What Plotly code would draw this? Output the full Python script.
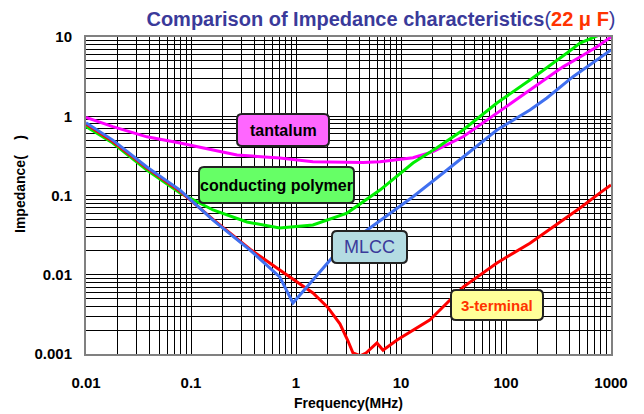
import plotly.graph_objects as go

# ---- data (frequency in MHz, impedance in ohm) ----
tan_f = [0.01, 0.018, 0.038, 0.0786, 0.162, 0.274, 0.70, 1.45, 4.35, 6.3, 13, 20.2, 39, 82, 169, 245, 349, 507, 736, 1000]
tan_z = [0.97, 0.74, 0.55, 0.46, 0.375, 0.324, 0.297, 0.267, 0.26, 0.267, 0.30, 0.357, 0.55, 1.1, 2.14, 3.04, 4.2, 5.6, 7.55, 10.0]

pol_f = [0.01, 0.018, 0.038, 0.0786, 0.162, 0.341, 0.70, 1.45, 3.06, 6.3, 13, 22, 39, 82, 169, 245, 381, 507, 760]
pol_z = [0.74, 0.46, 0.21, 0.108, 0.0657, 0.0463, 0.0389, 0.0425, 0.060, 0.117, 0.257, 0.40, 0.67, 1.47, 2.87, 4.06, 6.28, 8.4, 10.5]

mlcc_f = [0.01, 0.018, 0.038, 0.0786, 0.162, 0.365, 0.70, 0.935, 1.45, 2.25, 4.35, 7.85, 13, 27.4, 56.5, 82, 169, 245, 435, 736, 1000]
mlcc_z = [0.83, 0.50, 0.229, 0.117, 0.049, 0.0205, 0.0094, 0.0044, 0.0086, 0.0169, 0.0337, 0.060, 0.0966, 0.21, 0.46, 0.67, 1.2, 1.7, 3.16, 5.13, 6.85]

term_f = [0.01, 0.018, 0.038, 0.0786, 0.162, 0.365, 0.70, 1.0, 1.45, 2.0, 2.62, 3.1, 3.49, 4.1, 4.64, 5.9, 6.74, 9.17, 18.9, 39, 82, 169, 281, 507, 785, 1000]
term_z = [0.80, 0.48, 0.222, 0.113, 0.050, 0.021, 0.0115, 0.0083, 0.0059, 0.0039, 0.0024, 0.0015, 0.00103, 0.00095, 0.00103, 0.00138, 0.00112, 0.0015, 0.0027, 0.0070, 0.0141, 0.025, 0.040, 0.0695, 0.108, 0.136]

x_ticks = [0.01, 0.1, 1, 10, 100, 1000]
x_tick_text = ["0.01", "0.1", "1", "10", "100", "1000"]
y_ticks = [0.001, 0.01, 0.1, 1, 10]
y_tick_text = ["0.001", "0.01", "0.1", "1", "10"]

# ---- layout geometry (pixels) ----
W, H = 644, 414
L, R, T, B = 86, 611, 37, 354

fig = go.Figure()
for f, z, c in [(tan_f, tan_z, "#FF00FF"), (pol_f, pol_z, "#00EE00"),
                (term_f, term_z, "#FF0000"), (mlcc_f, mlcc_z, "#4070F0")]:
    fig.add_trace(go.Scatter(x=f, y=z, mode="lines", line=dict(color=c, width=3),
                             showlegend=False, hoverinfo="skip"))

def px2paper(px, py):
    return (px - L) / (R - L), (B - py) / (B - T)

def rounded(x0, y0, x1, y1, r=5):
    def p(x, y):
        a, b = px2paper(x, y)
        return f"{a:.5f},{b:.5f}"
    return (f"M {p(x0 + r, y0)} L {p(x1 - r, y0)} Q {p(x1, y0)} {p(x1, y0 + r)} "
            f"L {p(x1, y1 - r)} Q {p(x1, y1)} {p(x1 - r, y1)} "
            f"L {p(x0 + r, y1)} Q {p(x0, y1)} {p(x0, y1 - r)} "
            f"L {p(x0, y0 + r)} Q {p(x0, y0)} {p(x0 + r, y0)} Z")

labels = [
    ("<b>tantalum</b>", 237, 114, 329, 146, "#FF66FF", "#000000", 16),
    ("<b>conducting polymer</b>", 199, 167, 354, 203, "#66FF66", "#000000", 16),
    ("MLCC", 332, 231, 407, 263, "#B4DCE2", "#3A3A9A", 18),
    ("<b>3-terminal</b>", 451, 290, 543, 320, "#FFFF99", "#FF3300", 15),
]
shapes = []
annos = []
for text, x0, y0, x1, y1, fill, tc, fs in labels:
    shapes.append(dict(type="path", xref="paper", yref="paper", path=rounded(x0, y0, x1, y1),
                       fillcolor=fill, line=dict(color="#222222", width=2), layer="above"))
    cx, cy = px2paper((x0 + x1) / 2, (y0 + y1) / 2)
    annos.append(dict(x=cx, y=cy, xref="paper", yref="paper", showarrow=False,
                      xanchor="center", yanchor="middle", text=text,
                      font=dict(family="Liberation Sans, Arial", size=fs, color=tc)))

# y-axis title as rotated annotation
ytx, yty = px2paper(20, 184)
annos.append(dict(x=ytx, y=yty, xref="paper", yref="paper", showarrow=False,
                  xanchor="center", yanchor="middle", textangle=-90,
                  text="<b>Impedance(    )</b>",
                  font=dict(family="Liberation Sans, Arial", size=14, color="black")))

fig.update_layout(
    width=W, height=H,
    margin=dict(l=L, r=W - R, t=T, b=H - B, autoexpand=False),
    paper_bgcolor="white", plot_bgcolor="white",
    font=dict(family="Liberation Sans, Arial", color="black"),
    title=dict(
        text="<b>Comparison of Impedance characteristics</b><span style='color:#3A3A9A'>(</span>"
             "<b><span style='color:#FF3300'>22 μ F</span></b><span style='color:#3A3A9A'>)</span>",
        x=381 / W, xanchor="center", xref="container",
        y=1 - 19 / H, yanchor="middle",
        font=dict(family="Liberation Sans, Arial", size=20, color="#3A3A9A")),
    shapes=shapes,
    annotations=annos,
    xaxis=dict(type="log", range=[-2, 3], tickvals=x_ticks, automargin=False,
               ticktext=[f"<b>{t}</b>" for t in x_tick_text],
               tickfont=dict(size=15, family="Liberation Sans, Arial"), ticks="",
               ticklabelstandoff=14,
               showgrid=True, gridcolor="black", gridwidth=1,
               minor=dict(showgrid=True, gridcolor="black", gridwidth=1, dtick="D1", ticks=""),
               showline=True, linecolor="#808080", linewidth=2, mirror=True, zeroline=False,
               title=dict(text="<b>Frequency(MHz)</b>", font=dict(size=14), standoff=8)),
    yaxis=dict(type="log", range=[-3, 1], tickvals=y_ticks, automargin=False,
               ticktext=[f"<b>{t}</b>" for t in y_tick_text],
               tickfont=dict(size=15, family="Liberation Sans, Arial"), ticks="",
               ticklabelstandoff=9,
               showgrid=True, gridcolor="black", gridwidth=1,
               minor=dict(showgrid=True, gridcolor="black", gridwidth=1, dtick="D1", ticks=""),
               showline=True, linecolor="#808080", linewidth=2, mirror=True, zeroline=False),
)

fig.write_html("out.html", config={"displayModeBar": False},
               post_script="document.body.style.margin='0';")
